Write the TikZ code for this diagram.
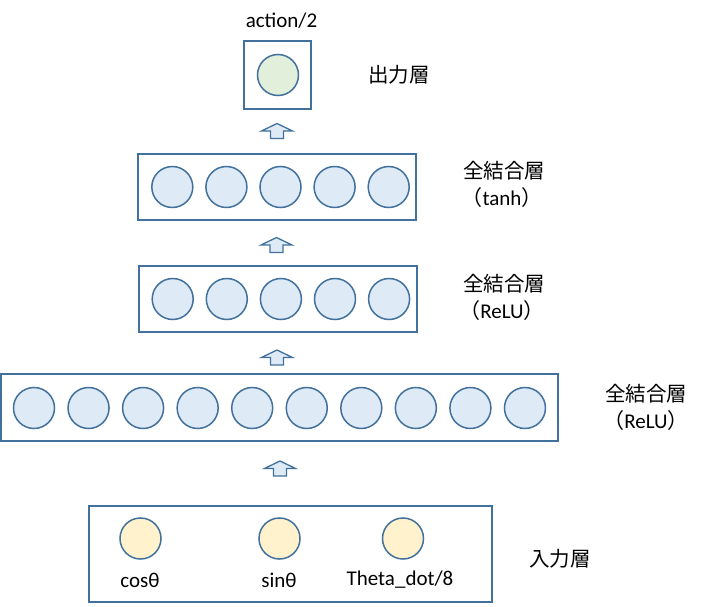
\documentclass[tikz,border=0pt]{standalone}
\usepackage{fontspec}
\setmainfont{Carlito}
\newfontfamily\jp{Noto Sans CJK JP}
\definecolor{edge}{HTML}{41719C}
\definecolor{fillblue}{HTML}{DEEBF7}
\definecolor{fillgreen}{HTML}{E2EFDA}
\definecolor{fillyellow}{HTML}{FFF2CC}
\begin{document}
\begin{tikzpicture}[x=1pt,y=-1pt,
  layerbox/.style={draw=edge,line width=2pt,fill=white,inner sep=0},
  unit/.style={circle,draw=edge,line width=1.5pt,fill=fillblue,minimum size=41pt,inner sep=0},
  outunit/.style={unit,fill=fillgreen},
  inunit/.style={unit,fill=fillyellow},
  lbl/.style={font=\fontsize{21}{25}\selectfont,inner sep=0,text=black},
  jlbl/.style={lbl,font=\fontsize{20.5}{25}\jp},
  blockup/.pic={\draw[edge,line width=1.3pt,fill=fillblue,line join=miter]
     (0,0) -- (15.5,7.5) -- (6.5,7.5) -- (6.5,15) -- (-6.5,15) -- (-6.5,7.5) -- (-15.5,7.5) -- cycle;}
]
\useasboundingbox (0,0) rectangle (721,607);

% boxes
\node[layerbox,minimum width=67pt,minimum height=68pt] (outbox) at (277.5,75) {};
\node[layerbox,minimum width=278pt,minimum height=66pt] (tanhbox) at (277,187) {};
\node[layerbox,minimum width=278pt,minimum height=66pt] (relubox) at (278,299) {};
\node[layerbox,minimum width=557pt,minimum height=67pt] (bigbox) at (279.5,407.5) {};
\node[layerbox,minimum width=403pt,minimum height=96pt] (inbox) at (290.5,553.5) {};

% units
\node[outunit] (o1) at (278,75) {};
\foreach \i in {0,...,4}{
  \node[unit] (t\i) at (172.3+54.1*\i,187) {};
  \node[unit] (r\i) at (172.7+54.1*\i,299) {};
}
\foreach \i in {0,...,9}{
  \node[unit] (b\i) at (34+54.55*\i,408) {};
}
\node[inunit] (i1) at (140.5,538.5) {};
\node[inunit] (i2) at (279.5,538.5) {};
\node[inunit] (i3) at (403,538.5) {};

% block arrows
\pic at (277,123.5) {blockup};
\pic at (276.5,237.5) {blockup};
\pic at (277,350) {blockup};
\pic at (280,461) {blockup};

% labels
\node[lbl] (actlbl) at (281.5,21) {action/2};
\node[jlbl] (outlbl) at (399,75) {出力層};
\node[jlbl] (tanhlbl) at (504,171) {全結合層};
\node[lbl] (tanhact) at (502,198) {{\jp （}tanh{\jp ）}};
\node[jlbl] (relulbl) at (504,284) {全結合層};
\node[lbl] (reluact) at (502,311) {{\jp （}ReLU{\jp ）}};
\node[jlbl] (biglbl) at (646,394) {全結合層};
\node[lbl] (bigact) at (646,421) {{\jp （}ReLU{\jp ）}};
\node[jlbl] (inlbl) at (560,559) {入力層};
\node[lbl] (c1) at (140,580) {cosθ};
\node[lbl] (c2) at (279,580) {sinθ};
\node[lbl] (c3) at (400,580) {Theta\_dot/8};
\end{tikzpicture}
\end{document}
